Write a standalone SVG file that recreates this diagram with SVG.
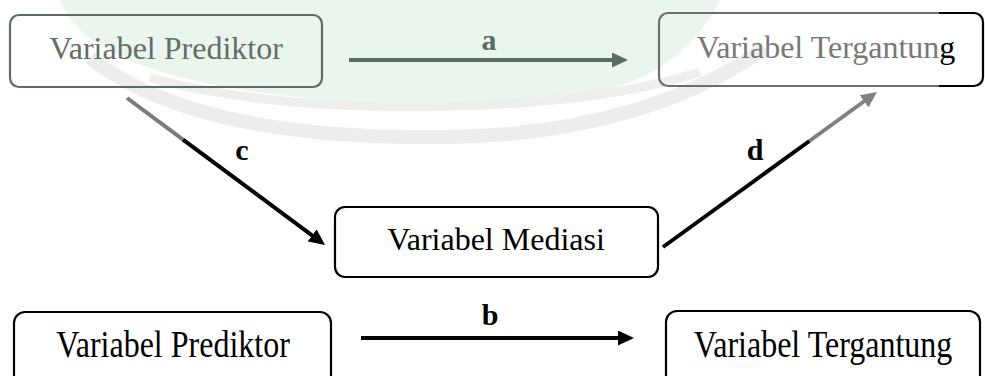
<svg xmlns="http://www.w3.org/2000/svg" width="985" height="376" viewBox="0 0 985 376">
  <style>
    .box { fill: none; stroke-width: 2.2; }
    .lbl { font-family: "Liberation Serif", "Times New Roman", serif; font-size: 32px; text-anchor: middle; }
    .tag { font-family: "Liberation Serif", "Times New Roman", serif; font-size: 30px; font-weight: bold; text-anchor: middle; }
    .ln { fill: none; stroke-width: 4; }
  </style>
  <defs>
    <marker id="hBlack" markerUnits="userSpaceOnUse" markerWidth="16" markerHeight="15" refX="4" refY="7.5" orient="auto">
      <path d="M0,0 L16,7.5 L0,15 Z" fill="#000"/>
    </marker>
    <marker id="hGray" markerUnits="userSpaceOnUse" markerWidth="16" markerHeight="15" refX="4" refY="7.5" orient="auto">
      <path d="M0,0 L16,7.5 L0,15 Z" fill="#808080"/>
    </marker>
    <marker id="hGreen" markerUnits="userSpaceOnUse" markerWidth="16" markerHeight="15" refX="4" refY="7.5" orient="auto">
      <path d="M0,0 L16,7.5 L0,15 Z" fill="#5b6a62"/>
    </marker>
    <clipPath id="wmIn"><rect x="0" y="0" width="939" height="141"/></clipPath>
    <clipPath id="wmOut"><rect x="939" y="0" width="46" height="141"/></clipPath>
  </defs>

  <rect x="0" y="0" width="985" height="376" fill="#fff"/>

  <!-- faint background watermark -->
  <g id="watermark">
    <path d="M60,0 C90,85 300,105 470,105 C600,105 680,80 720,0 Z" fill="#eaf5ee"/>
    <path d="M150,78 C250,104 350,108 450,106 C550,104 640,92 700,72" fill="none" stroke="#eeeeee" stroke-width="9"/>
    <path d="M90,58 C180,128 330,139 450,137 C580,135 690,102 765,48" fill="none" stroke="#ededed" stroke-width="14"/>
  </g>

  <g id="node-prediktor-top">
    <rect class="box" x="10" y="15" width="312" height="72" rx="9" stroke="#5e6a63"/>
    <text class="lbl" x="166" y="59" fill="#656d68">Variabel Prediktor</text>
  </g>

  <g id="node-tergantung-top">
    <rect class="box" x="659" y="13" width="324" height="73" rx="9" stroke="#6e6e6e" clip-path="url(#wmIn)"/>
    <rect class="box" x="659" y="13" width="324" height="73" rx="9" stroke="#000" clip-path="url(#wmOut)"/>
    <text class="lbl" x="826" y="58" fill="#787878">Variabel Tergantun<tspan fill="#000">g</tspan></text>
  </g>

  <g id="node-mediasi">
    <rect class="box" x="335" y="207" width="323" height="70" rx="10" stroke="#000" stroke-width="2.5"/>
    <text class="lbl" x="496" y="250" fill="#000">Variabel Mediasi</text>
  </g>

  <g id="node-prediktor-bottom">
    <rect class="box" x="14" y="312" width="317" height="80" rx="11" stroke="#000" stroke-width="2.5"/>
    <text class="lbl" transform="translate(173,357) scale(1,1.17)" x="0" y="0" fill="#000">Variabel Prediktor</text>
  </g>

  <g id="node-tergantung-bottom">
    <rect class="box" x="666" y="311" width="314" height="80" rx="11" stroke="#000" stroke-width="2.5"/>
    <text class="lbl" transform="translate(823,357) scale(1,1.17)" x="0" y="0" fill="#000">Variabel Tergantung</text>
  </g>

  <g id="connectors">
    <!-- a -->
    <line class="ln" x1="349" y1="60" x2="616" y2="60" stroke="#5b6a62" marker-end="url(#hGreen)"/>
    <text class="tag" x="489" y="50" fill="#5b6a62">a</text>
    <!-- c -->
    <line class="ln" x1="127" y1="98" x2="183" y2="139.6" stroke="#7a7a7a"/>
    <line class="ln" x1="183" y1="139.6" x2="315.4" y2="237.8" stroke="#000" marker-end="url(#hBlack)"/>
    <text class="tag" x="242" y="160" fill="#000">c</text>
    <!-- d -->
    <line class="ln" x1="663" y1="247" x2="809.4" y2="141" stroke="#000"/>
    <line class="ln" x1="809.4" y1="141" x2="867.3" y2="99" stroke="#808080" marker-end="url(#hGray)"/>
    <text class="tag" x="755" y="160" fill="#000">d</text>
    <!-- b -->
    <line class="ln" x1="361" y1="338" x2="622" y2="338" stroke="#000" marker-end="url(#hBlack)"/>
    <text class="tag" x="490" y="325" fill="#000">b</text>
  </g>
</svg>
